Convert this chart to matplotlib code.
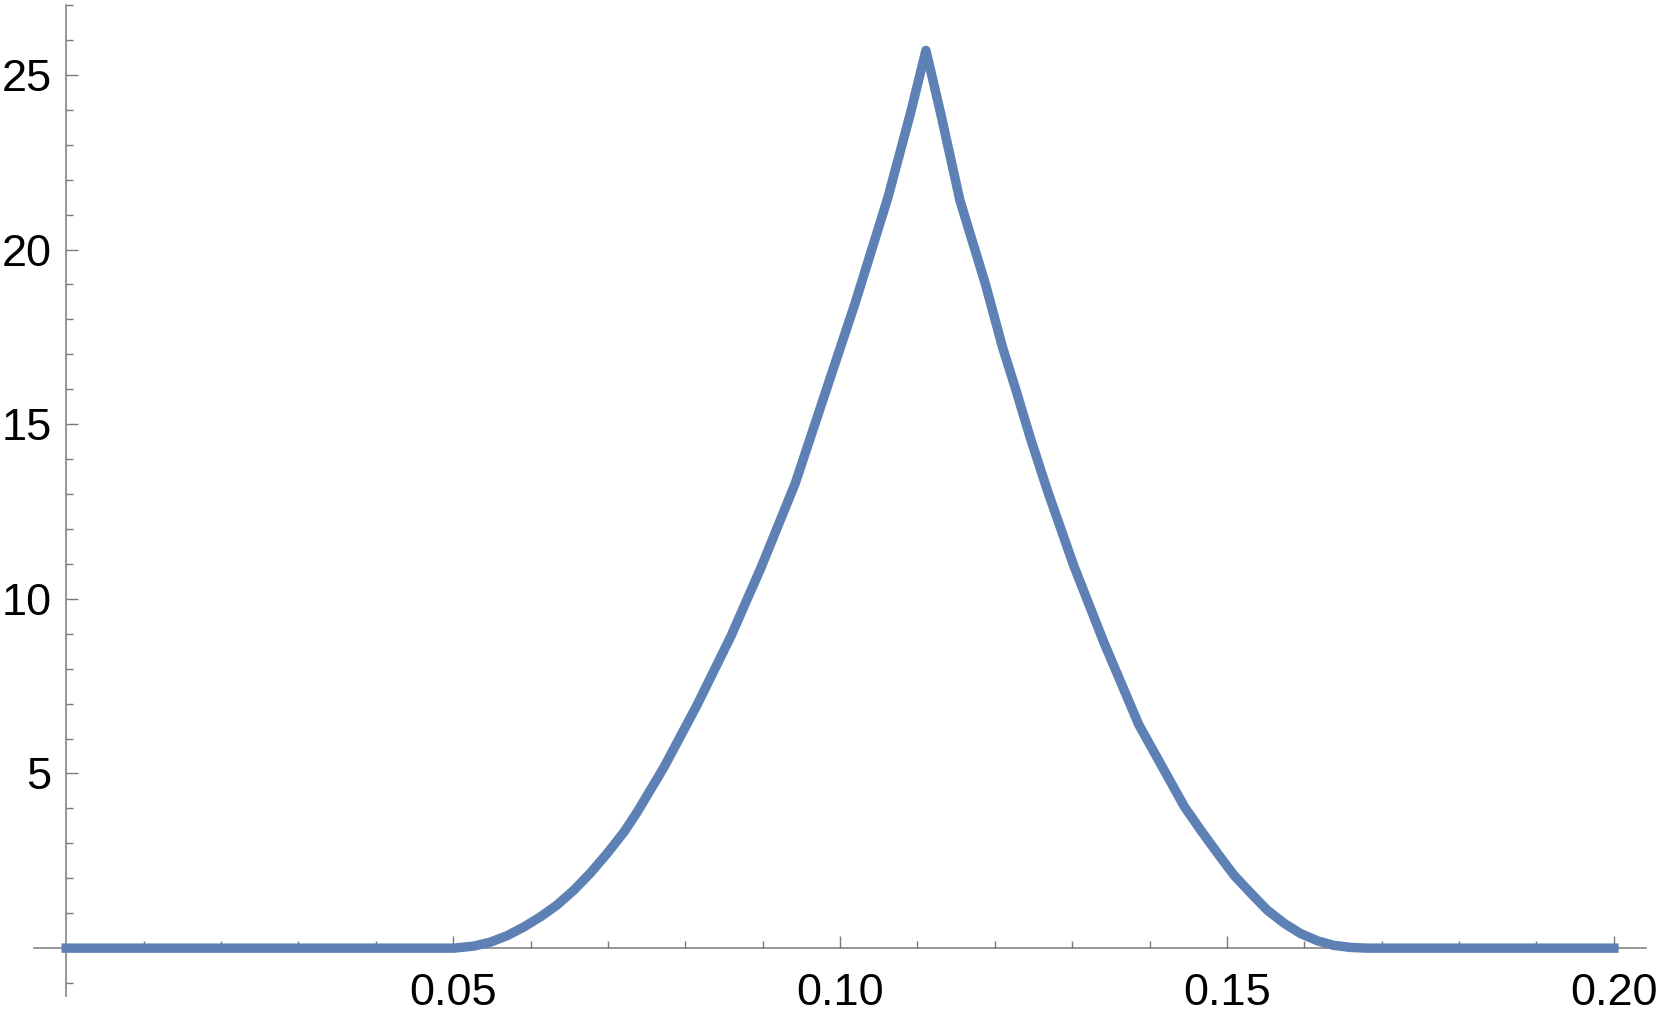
import numpy as np
import matplotlib.pyplot as plt
from matplotlib.ticker import FixedLocator, FixedFormatter

# values
x_vals = [0.0, 0.0501, 0.0527, 0.0548, 0.0570, 0.0591, 0.0613, 0.0634, 0.0656,
          0.0677, 0.0699, 0.0721, 0.0738, 0.0773, 0.0815,
          0.0859, 0.0898, 0.0942, 0.0981, 0.1020, 0.1062, 0.1091, 0.1111,
          0.1130, 0.1155, 0.1188, 0.1210, 0.1227, 0.1246, 0.1268, 0.1302,
          0.1341, 0.1386, 0.1445, 0.1466, 0.1488, 0.1509, 0.1531, 0.1552,
          0.1574, 0.1595, 0.1617, 0.1638, 0.1660, 0.1681, 0.2]
y_vals = [0.0, 0.0, 0.06, 0.17, 0.36, 0.60, 0.90, 1.23, 1.66,
          2.14, 2.71, 3.33, 3.90, 5.2, 6.95,
          8.93, 10.9, 13.3, 15.9, 18.5, 21.5, 23.9, 25.7,
          23.9, 21.4, 19.0, 17.2, 16.0, 14.6, 13.1, 10.95,
          8.75, 6.4, 4.05, 3.38, 2.71, 2.09, 1.57, 1.09,
          0.71, 0.42, 0.21, 0.08, 0.02, 0.0, 0.0]

x_major = [0.05, 0.10, 0.15, 0.20]
x_labels = ["0.05", "0.10", "0.15", "0.20"]
y_major = [5, 10, 15, 20, 25]
y_labels = ["5", "10", "15", "20", "25"]

W, H = 1661, 1018
fig = plt.figure(figsize=(W / 100, H / 100), dpi=100)
ax = fig.add_axes([33.7 / W, 22 / H, (1645.6 - 33.7) / W, (996 - 5) / H])

ax.plot(x_vals, y_vals, color='#5E81B5', lw=6.8,
        solid_capstyle='projecting', solid_joinstyle='round', zorder=3)

ax.set_xlim(-0.0042, 0.2041)
ax.set_ylim(-1.37, 27.0)

for side in ['top', 'right']:
    ax.spines[side].set_visible(False)
ax.spines['left'].set_position(('data', 0))
ax.spines['bottom'].set_position(('data', 0))
for side in ['left', 'bottom']:
    ax.spines[side].set_color('#7a7a7a')
    ax.spines[side].set_linewidth(1.1)

ax.xaxis.set_major_locator(FixedLocator(x_major))
ax.xaxis.set_major_formatter(FixedFormatter(x_labels))
ax.xaxis.set_minor_locator(FixedLocator([i / 100 for i in range(1, 20) if i % 5]))
ax.yaxis.set_major_locator(FixedLocator(y_major))
ax.yaxis.set_major_formatter(FixedFormatter(y_labels))
ax.yaxis.set_minor_locator(FixedLocator([i for i in range(-1, 28) if i % 5]))

ax.tick_params(which='both', direction='in', color='#7a7a7a', width=1.0)
ax.tick_params(which='major', length=8.6)
ax.tick_params(which='minor', length=5)
ax.tick_params(axis='x', which='major', pad=18, labelsize=32.5)
ax.tick_params(axis='y', which='major', pad=10.5, labelsize=32.5)
for lab in ax.get_xticklabels() + ax.get_yticklabels():
    lab.set_fontfamily('Liberation Sans')

fig.savefig('out.png', dpi=100)
